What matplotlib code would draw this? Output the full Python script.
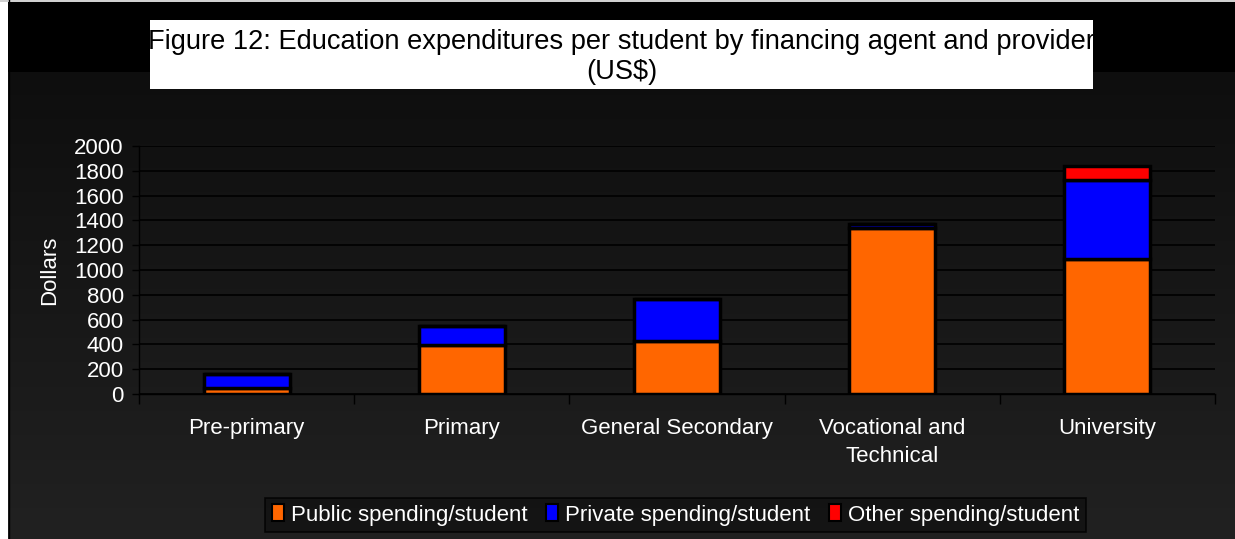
import numpy as np
import matplotlib
matplotlib.use("Agg")
import matplotlib.pyplot as plt
from matplotlib.patches import Rectangle, Patch

plt.rcParams['font.family'] = ['Liberation Sans', 'DejaVu Sans']

categories = ["Pre-primary", "Primary", "General Secondary",
              "Vocational and\nTechnical", "University"]
public = [45, 395, 430, 1340, 1090]
private = [115, 150, 335, 35, 635]
other = [0, 0, 0, 0, 110]
series_names = ["Public spending/student", "Private spending/student",
                "Other spending/student"]
colors = ["#FF6600", "#0000FF", "#FF0000"]
yticks = [0, 200, 400, 600, 800, 1000, 1200, 1400, 1600, 1800, 2000]

W, H = 1235, 539
fig = plt.figure(figsize=(W / 100, H / 100), dpi=100)

# background: black title band over a dark vertical gradient
bg = fig.add_axes([0, 0, 1, 1], zorder=-10)
bg.set_axis_off()
rows = np.arange(H)
shade = np.where(rows < 72, 0.0,
                 0.055 + (rows - 72) / (H - 72) * (0.13 - 0.055))
img = np.repeat(shade[:, None], W, axis=1)
bg.imshow(img, cmap="gray", vmin=0, vmax=1, aspect="auto",
          extent=[0, W, H, 0], interpolation="nearest")
bg.set_xlim(0, W)
bg.set_ylim(H, 0)
bg.add_patch(Rectangle((0, 0), 8, H, facecolor="white", edgecolor="none"))
bg.add_patch(Rectangle((0, 0), W, 1.5, facecolor="#d0d0d0", edgecolor="none"))
bg.plot([8.5, 8.5], [0, H], color="black", lw=1)
# title box
bg.add_patch(Rectangle((150, 20), 943, 69, facecolor="white", edgecolor="none"))
bg.text(621.5, 57, "Figure 12: Education expenditures per student by financing agent and provider\n(US$)",
        ha="center", va="center", fontsize=19.6, color="black", linespacing=1.22)

# plotting area
x0, x1, ytop, ybot = 139, 1215, 146, 394
ax = fig.add_axes([x0 / W, (H - ybot) / H, (x1 - x0) / W, (ybot - ytop) / H])
ax.set_facecolor("none")

x = np.arange(len(categories))
bw = 0.4
bottom = np.zeros(len(categories))
for vals, col in zip([public, private, other], colors):
    vals = np.array(vals, dtype=float)
    ax.bar(x, vals, bw, bottom=bottom, color=col, edgecolor="black",
           linewidth=2.5, zorder=3)
    bottom += vals

ax.set_xlim(-0.5, len(categories) - 0.5)
ax.set_ylim(0, 2000)
ax.set_yticks(yticks)
ax.set_yticklabels([str(v) for v in yticks])
ax.yaxis.grid(True, color="black", linewidth=1.2, zorder=0)
ax.set_axisbelow(True)

ax.set_xticks(x)
ax.set_xticklabels(categories, linespacing=1.45)
ax.set_xticks(np.arange(len(categories) + 1) - 0.5, minor=True)
ax.tick_params(axis="x", which="major", length=0, pad=17,
               labelcolor="white", labelsize=16)
ax.tick_params(axis="x", which="minor", length=7, width=1, color="black")
ax.tick_params(axis="y", length=5, width=1, color="black",
               labelcolor="white", labelsize=16, pad=6)

for s in ["top", "right"]:
    ax.spines[s].set_visible(False)
for s in ["left", "bottom"]:
    ax.spines[s].set_color("black")
    ax.spines[s].set_linewidth(1)

ax.set_ylabel("Dollars", color="white", fontsize=16, labelpad=10)

handles = [Patch(facecolor=c, edgecolor="black", linewidth=1.5) for c in colors]
leg = fig.legend(handles, series_names, loc="center",
                 bbox_to_anchor=(675.5 / W, (H - 515) / H), ncol=3,
                 fontsize=16, frameon=True, fancybox=False,
                 handlelength=0.55, handleheight=0.8, handletextpad=0.3,
                 columnspacing=0.85, borderpad=0.3, labelcolor="white")
leg.get_frame().set_facecolor("#111111")
leg.get_frame().set_edgecolor("black")
leg.get_frame().set_linewidth(1.2)

fig.savefig("out.png", dpi=100)
